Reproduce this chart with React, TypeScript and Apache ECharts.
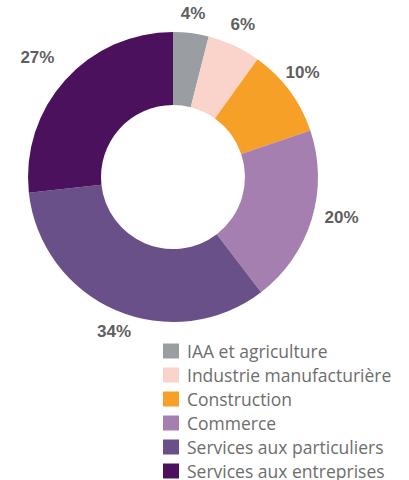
import React, { useEffect, useRef } from "react";
import * as echarts from "echarts";

const categories = [
  "IAA et agriculture",
  "Industrie manufacturière",
  "Construction",
  "Commerce",
  "Services aux particuliers",
  "Services aux entreprises",
];
const values = [4, 6, 10, 20, 34, 27];
const colors = ["#9a9ea3", "#fad3ca", "#f6a027", "#a47fb0", "#6a5088", "#4b115c"];
const labelOffsets: [number, number][] = [
  [-1, 5],
  [-2, 2],
  [-7, -3],
  [6, -9],
  [8, -2],
  [-9, -6],
];

export default function App() {
  const ref = useRef<HTMLDivElement>(null);
  useEffect(() => {
    if (!ref.current) return;
    const chart = echarts.init(ref.current, null, { renderer: "svg" });
    const data = categories.map((name, i) => ({
      name,
      value: values[i],
      itemStyle: { color: colors[i] },
    }));
    chart.setOption({
      animation: false,
      backgroundColor: "#ffffff",
      legend: {
        orient: "vertical",
        left: 163,
        top: 342,
        height: 200,
        itemWidth: 16,
        itemHeight: 15,
        itemGap: 6,
        icon: "rect",
        padding: 0,
        selectedMode: false,
        data: categories,
        textStyle: {
          fontFamily: "Open Sans",
          fontSize: 17.5,
          lineHeight: 16,
          color: "#6d6d6d",
          padding: [0, 0, 0, 3],
        },
      },
      series: [
        {
          type: "pie",
          center: [173, 177],
          radius: [72, 145],
          startAngle: 90,
          clockwise: true,
          silent: true,
          label: { show: false },
          labelLine: { show: false },
          data,
        },
        {
          type: "pie",
          center: [173, 177],
          radius: [150, 184],
          startAngle: 90,
          clockwise: true,
          silent: true,
          itemStyle: { color: "transparent" },
          label: {
            show: true,
            position: "inside",
            formatter: (p: any) => p.value + "%",
            fontFamily: "Liberation Sans",
            fontWeight: "bold",
            fontSize: 17,
            color: "#5f5f5f",
          },
          labelLine: { show: false },
          data: categories.map((name, i) => ({
            name: name,
            value: values[i],
            label: { offset: labelOffsets[i] },
          })),
        },
      ],
    });
    return () => chart.dispose();
  }, []);
  return (
    <div
      ref={ref}
      style={{ position: "fixed", left: 0, top: 0, width: 409, height: 480 }}
    />
  );
}
